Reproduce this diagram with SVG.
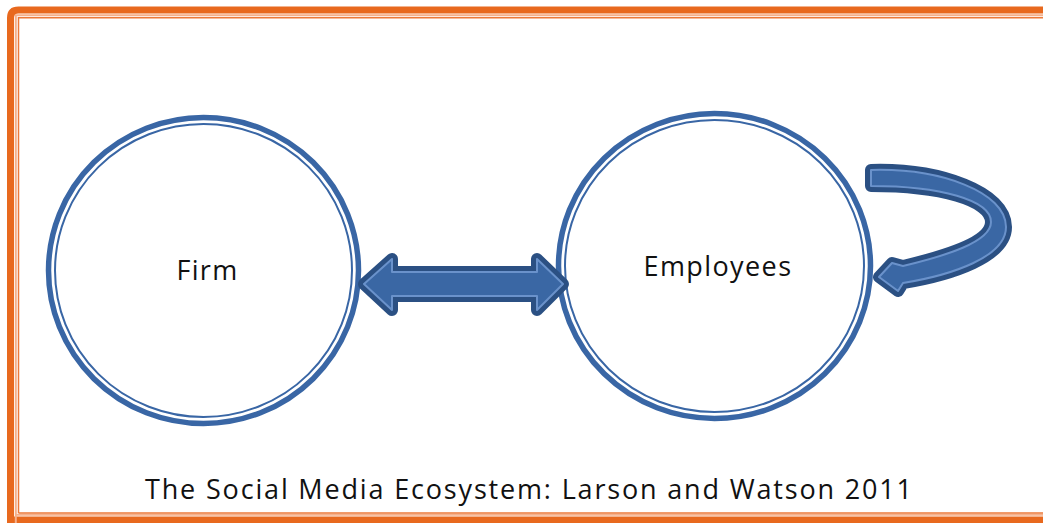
<svg xmlns="http://www.w3.org/2000/svg" width="1043" height="523" viewBox="0 0 1043 523">
  <style>
    .ring-outer { fill: none; stroke: #3966A5; stroke-width: 5.5; }
    .ring-inner { fill: none; stroke: #3966A5; stroke-width: 2; }
    .lbl { font-family: "Open Sans", "Noto Sans", "DejaVu Sans", sans-serif; fill: #111111; text-anchor: middle; }
    .arr-dark { fill: none; stroke: #2B5083; stroke-width: 12; stroke-linejoin: round; }
    .arr-body { fill: #3A67A4; stroke: #6A92CB; stroke-width: 2; stroke-linejoin: round; }
  </style>
  <rect width="1043" height="523" fill="#ffffff"/>
  <g id="frame" fill="none">
    <path d="M10.5,530 L10.5,18 Q10.5,10 18.5,10 L1060,10" stroke="#E8691E" stroke-width="7"/>
    <path d="M7,520 L1060,520" stroke="#E8691E" stroke-width="7"/>
    <path d="M15.8,530 L15.8,15.3 L1060,15.3 M15.8,514.8 L1060,514.8" stroke="#F5B08A" stroke-width="2"/>
    <path d="M18.5,513 L18.5,17.8 L1060,17.8 M18.5,513 L1060,513" stroke="#EC7A3A" stroke-width="1.5"/>
  </g>
  <g id="firm">
    <ellipse class="ring-outer" cx="203.5" cy="270.5" rx="155" ry="153"/>
    <ellipse class="ring-inner" cx="203.5" cy="270.5" rx="148.5" ry="146.5"/>
    <text class="lbl" x="207.5" y="280" font-size="27" letter-spacing="1.3">Firm</text>
  </g>
  <g id="employees">
    <ellipse class="ring-outer" cx="714.5" cy="266" rx="156" ry="152.5"/>
    <ellipse class="ring-inner" cx="714.5" cy="266" rx="149.5" ry="146"/>
    <text class="lbl" x="718" y="276" font-size="27" letter-spacing="1.4">Employees</text>
  </g>
  <g id="connectors">
    <g id="firm-employees">
      <path class="arr-dark" d="M364,284 L392,259 L392,272 L537,272 L537,259 L563,284 L537,310 L537,296 L392,296 L392,310 Z"/>
      <path class="arr-body" d="M364,284 L392,259 L392,272 L537,272 L537,259 L563,284 L537,310 L537,296 L392,296 L392,310 Z"/>
    </g>
    <g id="employees-self">
      <path class="arr-dark" d="M871,170 C940,168 1006,192 1006,227 C1006,257 952,275 903,283 L898,291 L879,277 L892,263 L903,266 C945,256 991,242 991,222 C991,200 940,186 871,186 Z"/>
      <path class="arr-body" d="M871,170 C940,168 1006,192 1006,227 C1006,257 952,275 903,283 L898,291 L879,277 L892,263 L903,266 C945,256 991,242 991,222 C991,200 940,186 871,186 Z"/>
    </g>
  </g>
  <text id="caption" class="lbl" x="528.5" y="499" font-size="27" textLength="767" lengthAdjust="spacing">The Social Media Ecosystem: Larson and Watson 2011</text>
</svg>
